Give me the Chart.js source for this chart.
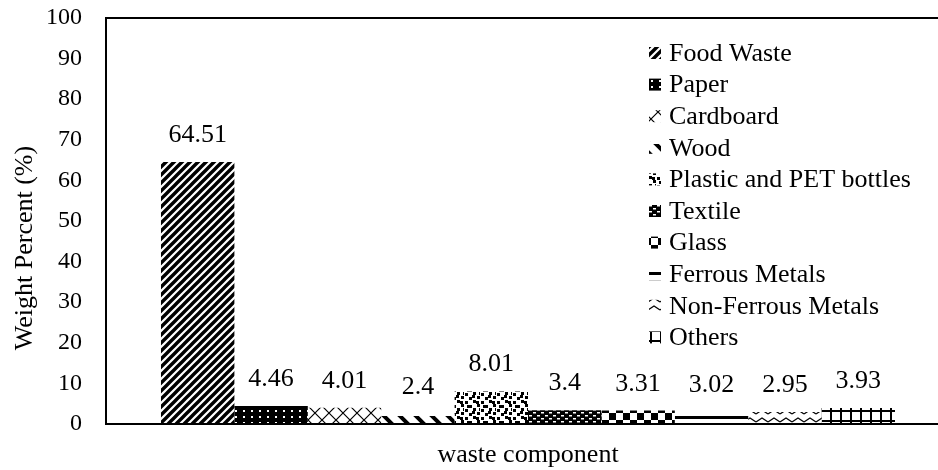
<!DOCTYPE html>
<html><head><meta charset="utf-8">
<script src="https://cdn.jsdelivr.net/npm/chart.js@4/dist/chart.umd.min.js"></script>
<style>html,body{margin:0;padding:0;background:#fff;overflow:hidden;width:938px;height:470px}#wrap{width:950px;height:470px}</style>
</head><body><div id="wrap"><canvas id="c" width="950" height="470"></canvas></div>
<script>
const categories = ['waste component'];
const components = ['Food Waste','Paper','Cardboard','Wood','Plastic and PET bottles','Textile','Glass','Ferrous Metals','Non-Ferrous Metals','Others'];
const weightPercent = [64.51, 4.46, 4.01, 2.4, 8.01, 3.4, 3.31, 3.02, 2.95, 3.93];
const yTicks = [0,10,20,30,40,50,60,70,80,90,100];
const yTitle = 'Weight Percent (%)';
const xTitle = 'waste component';

const FONT = 'Liberation Serif, Times New Roman, serif';

function tile(w, h, draw) {
  const c = document.createElement('canvas');
  c.width = w; c.height = h;
  const g = c.getContext('2d');
  g.fillStyle = '#fff'; g.fillRect(0, 0, w, h);
  g.fillStyle = '#000'; g.strokeStyle = '#000';
  draw(g, w, h);
  return g.createPattern(c, 'repeat');
}
const patterns = [
  // Food waste: wide upward diagonal
  tile(8, 8, (g) => { g.lineWidth = 3.4; g.beginPath();
    g.moveTo(-4, 4); g.lineTo(4, -4); g.moveTo(0, 8); g.lineTo(8, 0); g.moveTo(4, 12); g.lineTo(12, 4); g.stroke(); }),
  // Paper: black with white dots
  tile(8, 6, (g, w, h) => { g.fillRect(0, 0, w, h); g.fillStyle = '#fff'; g.fillRect(3, 2, 2, 2); }),
  // Cardboard: thin diagonal crosshatch
  tile(14, 14, (g) => { g.lineWidth = 1.2; g.beginPath();
    g.moveTo(0, 0); g.lineTo(14, 14); g.moveTo(14, 0); g.lineTo(0, 14); g.stroke(); }),
  // Wood: wide downward diagonal
  tile(16, 16, (g) => { g.lineWidth = 4; g.beginPath();
    g.moveTo(-2, -2); g.lineTo(12, 12); g.moveTo(14, -2); g.lineTo(18, 2); g.stroke(); }),
  // Plastic: confetti
  tile(16, 16, (g) => { [[1,1],[9,0],[5,5],[13,4],[1,9],[9,8],[5,13],[13,12],[12,1],[3,5],[8,11],[15,8]].forEach(p => g.fillRect(p[0], p[1], 3, 3)); }),
  // Textile: black with white dashes
  tile(8, 6, (g, w, h) => { g.fillRect(0, 0, w, h); g.fillStyle = '#fff'; g.fillRect(1, 1, 3, 1.5); g.fillRect(5, 4, 3, 1.5); }),
  // Glass: large checkerboard
  tile(14, 14, (g) => { g.fillRect(0, 0, 7, 7); g.fillRect(7, 7, 7, 7); }),
  // Ferrous: wide horizontal
  tile(8, 8, (g) => { g.fillRect(0, 0, 8, 3); }),
  // Non-ferrous: zigzag
  tile(12, 8, (g) => { g.lineWidth = 1.2; g.beginPath(); g.moveTo(0, 6); g.lineTo(6, 2); g.lineTo(12, 6); g.stroke(); }),
  // Others: grid
  tile(10, 10, (g) => { g.fillRect(0, 0, 10, 2); g.fillRect(0, 0, 2, 10); })
];

const datasets = components.map((name, i) => ({
  label: name,
  data: [weightPercent[i]],
  backgroundColor: patterns[i],
  borderWidth: 0
}));

const valueLabels = {
  id: 'valueLabels',
  afterDatasetsDraw(chart) {
    const ctx = chart.ctx;
    ctx.save();
    ctx.fillStyle = '#000';
    ctx.font = '26px ' + FONT;
    ctx.textAlign = 'center';
    ctx.textBaseline = 'alphabetic';
    chart.data.datasets.forEach((ds, i) => {
      const el = chart.getDatasetMeta(i).data[0];
      ctx.fillText(String(ds.data[0]), el.x, el.y - 20);
    });
    ctx.restore();
  }
};

const innerLegend = {
  id: 'innerLegend',
  afterDraw(chart) {
    const ctx = chart.ctx;
    ctx.save();
    ctx.font = '26px ' + FONT;
    ctx.textBaseline = 'middle';
    ctx.textAlign = 'left';
    chart.data.datasets.forEach((ds, i) => {
      const y = 53 + i * 31.6;
      ctx.fillStyle = ds.backgroundColor;
      ctx.fillRect(649, y - 6, 12, 12);
      ctx.fillStyle = '#000';
      ctx.fillText(ds.label, 669, y + 1);
    });
    ctx.restore();
  }
};

const yAxisTitle = {
  id: 'yAxisTitle',
  afterDraw(chart) {
    const ctx = chart.ctx;
    ctx.save();
    ctx.translate(25, 248);
    ctx.rotate(-Math.PI / 2);
    ctx.font = '26px ' + FONT;
    ctx.fillStyle = '#000';
    ctx.textAlign = 'center';
    ctx.textBaseline = 'middle';
    ctx.fillText(yTitle, 0, 0);
    ctx.restore();
  }
};

new Chart(document.getElementById('c'), {
  type: 'bar',
  data: { labels: categories, datasets },
  plugins: [valueLabels, innerLegend, yAxisTitle],
  options: {
    responsive: false,
    animation: false,
    devicePixelRatio: 1,
    layout: { padding: { top: 18, right: 0, left: 0, bottom: 0 } },
    datasets: { bar: { categoryPercentage: 0.8697, barPercentage: 1 } },
    plugins: { legend: { display: false }, tooltip: { enabled: false } },
    scales: {
      x: {
        grid: { display: false, drawTicks: false },
        border: { display: true, color: '#000', width: 2 },
        ticks: { display: false },
        title: { display: true, text: xTitle, color: '#000', font: { family: FONT, size: 26, lineHeight: 1 }, padding: { top: 0, bottom: 2 } },
        afterFit(s) { s.height = 46; s.paddingLeft = 0; s.paddingRight = 0; }
      },
      y: {
        min: 0, max: 100,
        afterBuildTicks(s) { s.ticks = yTicks.map(v => ({ value: v })); },
        grid: {
          drawTicks: false,
          color: (c) => (c.tick && c.tick.value === 100 ? '#000' : 'rgba(0,0,0,0)'),
          lineWidth: 2
        },
        border: { display: true, color: '#000', width: 2 },
        ticks: { color: '#000', padding: 24, font: { family: FONT, size: 24 } },
        title: { display: false, text: yTitle },
        afterFit(s) { s.width = 106; s.paddingTop = 0; s.paddingBottom = 0; }
      }
    }
  }
});
</script>
</body></html>
